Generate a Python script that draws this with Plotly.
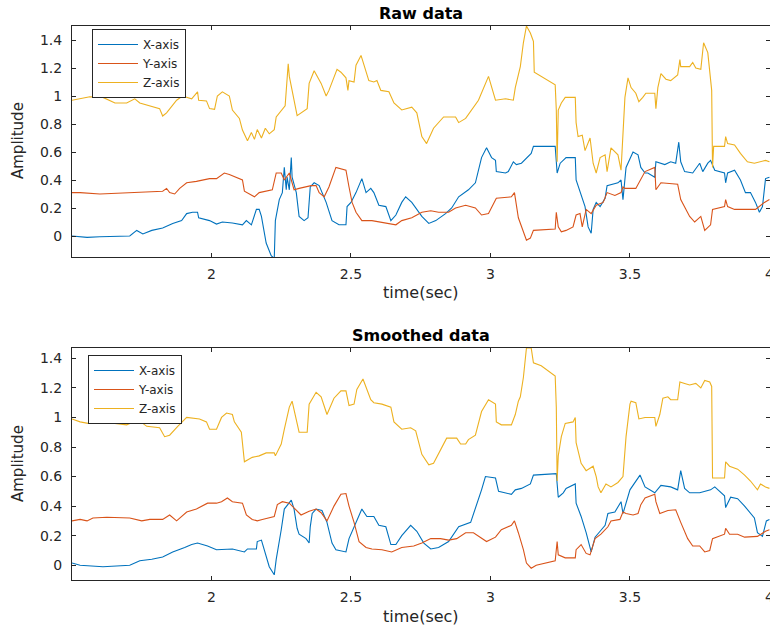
import plotly.graph_objects as go

# ---------------- DATA (time in seconds, amplitude) ----------------
raw_x_t = [1.500,1.529,1.554,1.600,1.707,1.732,1.754,1.786,1.825,1.861,1.893,1.911,1.932,1.950,1.954,1.993,2.018,2.039,2.075,2.111,2.125,2.143,2.161,2.171,2.179,2.196,2.214,2.225,2.229,2.243,2.254,2.261,2.268,2.271,2.279,2.286,2.289,2.304,2.314,2.332,2.346,2.354,2.368,2.386,2.411,2.432,2.457,2.482,2.486,2.500,2.518,2.539,2.554,2.571,2.582,2.600,2.625,2.643,2.661,2.682,2.696,2.718,2.736,2.754,2.779,2.804,2.839,2.861,2.886,2.921,2.946,2.957,2.968,2.986,3.004,3.018,3.021,3.054,3.064,3.082,3.093,3.111,3.146,3.154,3.232,3.239,3.250,3.271,3.304,3.307,3.339,3.350,3.361,3.368,3.379,3.393,3.411,3.418,3.457,3.468,3.475,3.486,3.511,3.529,3.539,3.554,3.564,3.589,3.593,3.625,3.646,3.664,3.675,3.682,3.696,3.725,3.750,3.761,3.779,3.789,3.804,3.839,3.843,3.850,3.875,3.896,3.914,3.932,3.950,3.964,3.975,3.986,4.000]
raw_x = [0.0,-0.005,-0.01,-0.005,0.0,0.04,0.015,0.04,0.057,0.09,0.11,0.16,0.17,0.17,0.13,0.11,0.085,0.1,0.093,0.08,0.11,0.08,0.19,0.19,0.14,-0.05,-0.14,-0.16,0.11,0.26,0.31,0.49,0.33,0.42,0.33,0.56,0.42,0.31,0.14,0.11,0.13,0.35,0.38,0.36,0.24,0.11,0.08,0.08,0.21,0.24,0.31,0.41,0.31,0.34,0.31,0.22,0.21,0.11,0.15,0.24,0.28,0.24,0.19,0.14,0.09,0.11,0.16,0.2,0.28,0.33,0.38,0.47,0.56,0.63,0.56,0.54,0.46,0.45,0.46,0.53,0.51,0.52,0.59,0.64,0.64,0.45,0.52,0.56,0.56,0.40,0.21,0.065,0.02,0.19,0.24,0.21,0.27,0.36,0.38,0.4,0.26,0.49,0.6,0.58,0.49,0.45,0.45,0.42,0.53,0.51,0.53,0.52,0.67,0.53,0.46,0.45,0.52,0.46,0.52,0.54,0.47,0.45,0.38,0.45,0.47,0.4,0.31,0.31,0.24,0.17,0.21,0.41,0.42]

raw_y_t = [1.500,1.529,1.600,1.707,1.825,1.839,1.850,1.868,1.886,1.911,1.946,1.993,2.018,2.046,2.064,2.111,2.118,2.154,2.171,2.218,2.232,2.250,2.261,2.279,2.296,2.314,2.357,2.375,2.386,2.404,2.421,2.446,2.468,2.482,2.493,2.504,2.518,2.539,2.575,2.600,2.636,2.661,2.682,2.718,2.754,2.786,2.814,2.850,2.875,2.911,2.946,2.968,2.993,3.021,3.075,3.086,3.100,3.111,3.129,3.143,3.154,3.232,3.236,3.243,3.254,3.271,3.296,3.307,3.321,3.329,3.343,3.361,3.379,3.404,3.418,3.446,3.468,3.475,3.482,3.521,3.536,3.554,3.589,3.593,3.611,3.671,3.682,3.714,3.732,3.754,3.768,3.789,3.796,3.839,3.843,3.850,3.875,3.950,3.982,4.000]
raw_y = [0.31,0.31,0.30,0.31,0.32,0.34,0.31,0.30,0.34,0.38,0.39,0.41,0.41,0.45,0.44,0.40,0.32,0.28,0.31,0.33,0.45,0.45,0.40,0.45,0.33,0.34,0.36,0.36,0.31,0.28,0.35,0.49,0.48,0.47,0.35,0.24,0.17,0.11,0.11,0.10,0.09,0.08,0.11,0.13,0.17,0.18,0.17,0.17,0.20,0.22,0.20,0.15,0.16,0.27,0.28,0.31,0.13,0.065,-0.03,-0.015,0.04,0.05,0.17,0.065,0.03,0.04,0.065,0.15,0.16,0.065,0.19,0.16,0.22,0.24,0.31,0.29,0.31,0.35,0.34,0.34,0.40,0.46,0.49,0.33,0.38,0.37,0.26,0.14,0.10,0.14,0.04,0.08,0.19,0.21,0.26,0.21,0.19,0.19,0.24,0.26]

raw_z_t = [1.500,1.564,1.611,1.654,1.696,1.725,1.743,1.768,1.814,1.825,1.839,1.875,1.896,1.929,1.950,1.954,1.982,1.993,2.011,2.021,2.039,2.064,2.075,2.100,2.111,2.129,2.143,2.154,2.164,2.179,2.193,2.207,2.225,2.232,2.254,2.264,2.275,2.279,2.307,2.343,2.350,2.368,2.393,2.411,2.421,2.450,2.464,2.482,2.489,2.493,2.511,2.518,2.536,2.546,2.564,2.582,2.593,2.607,2.636,2.654,2.682,2.718,2.736,2.754,2.771,2.796,2.832,2.875,2.886,2.911,2.957,2.993,3.004,3.018,3.054,3.082,3.089,3.107,3.118,3.129,3.143,3.154,3.157,3.182,3.232,3.236,3.239,3.243,3.254,3.268,3.304,3.307,3.314,3.329,3.339,3.357,3.368,3.379,3.393,3.411,3.418,3.432,3.457,3.468,3.475,3.482,3.493,3.504,3.521,3.532,3.546,3.557,3.589,3.593,3.600,3.611,3.629,3.646,3.671,3.679,3.682,3.714,3.725,3.736,3.754,3.764,3.779,3.786,3.793,3.796,3.800,3.839,3.843,3.850,3.875,3.896,3.921,3.946,3.968,3.986,4.000]
raw_z = [0.97,0.995,0.99,0.95,0.95,0.98,0.95,0.935,0.91,0.857,0.88,0.97,1.0,0.98,1.03,0.97,0.965,0.91,0.905,1.0,1.03,1.0,0.9,0.84,0.757,0.68,0.74,0.69,0.76,0.70,0.77,0.73,0.76,0.85,0.90,0.93,1.23,1.14,0.86,0.91,1.09,1.18,1.09,1.0,1.04,1.19,1.17,1.13,1.04,1.11,1.10,1.22,1.29,1.22,1.11,1.10,1.11,1.04,1.03,0.95,0.90,0.92,0.88,0.71,0.66,0.77,0.85,0.85,0.81,0.84,0.97,1.14,1.06,0.97,0.98,0.97,1.06,1.21,1.38,1.5,1.45,1.39,1.17,1.14,1.08,0.9,0.53,0.9,0.95,0.99,0.99,0.81,0.71,0.72,0.61,0.70,0.52,0.45,0.56,0.58,0.46,0.63,0.58,0.47,0.75,0.99,1.13,1.06,1.02,0.96,0.99,1.02,1.02,0.91,1.06,1.16,1.12,1.11,1.15,1.26,1.21,1.21,1.24,1.20,1.19,1.38,1.31,1.19,1.04,0.49,0.64,0.64,0.71,0.66,0.65,0.59,0.53,0.52,0.53,0.54,0.53]

sm_x_t = [1.500,1.529,1.611,1.696,1.707,1.743,1.786,1.825,1.861,1.904,1.929,1.950,1.986,2.018,2.054,2.075,2.118,2.129,2.161,2.164,2.179,2.189,2.207,2.225,2.232,2.250,2.261,2.286,2.296,2.307,2.314,2.339,2.350,2.354,2.361,2.375,2.396,2.414,2.432,2.446,2.482,2.493,2.518,2.539,2.557,2.582,2.600,2.625,2.643,2.661,2.682,2.714,2.736,2.761,2.786,2.814,2.850,2.886,2.929,2.946,2.968,2.982,3.018,3.029,3.075,3.089,3.111,3.143,3.154,3.236,3.243,3.261,3.271,3.304,3.307,3.325,3.343,3.361,3.375,3.393,3.411,3.421,3.446,3.468,3.475,3.500,3.518,3.536,3.554,3.589,3.611,3.646,3.671,3.682,3.696,3.714,3.750,3.789,3.804,3.839,3.843,3.861,3.886,3.911,3.946,3.957,3.975,3.989,4.000]
sm_x = [0.015,0.0,-0.01,-0.005,0.0,0.03,0.04,0.055,0.09,0.12,0.14,0.15,0.13,0.105,0.105,0.11,0.09,0.11,0.11,0.16,0.17,0.105,-0.01,-0.065,0.04,0.24,0.38,0.44,0.38,0.25,0.21,0.18,0.15,0.26,0.35,0.38,0.37,0.29,0.15,0.105,0.09,0.18,0.29,0.38,0.33,0.33,0.27,0.26,0.14,0.14,0.20,0.27,0.23,0.15,0.11,0.12,0.16,0.26,0.29,0.38,0.51,0.60,0.59,0.50,0.48,0.51,0.52,0.55,0.61,0.62,0.46,0.49,0.52,0.55,0.42,0.33,0.22,0.09,0.19,0.23,0.27,0.35,0.36,0.43,0.35,0.51,0.56,0.61,0.53,0.49,0.54,0.53,0.51,0.64,0.52,0.49,0.49,0.51,0.53,0.47,0.39,0.46,0.45,0.40,0.32,0.22,0.195,0.30,0.31]

sm_y_t = [1.500,1.529,1.554,1.575,1.625,1.707,1.750,1.779,1.825,1.850,1.875,1.911,1.946,1.986,2.018,2.036,2.057,2.075,2.111,2.125,2.146,2.164,2.182,2.225,2.236,2.254,2.279,2.296,2.321,2.350,2.375,2.393,2.414,2.439,2.464,2.482,2.493,2.511,2.529,2.554,2.575,2.611,2.646,2.682,2.725,2.754,2.786,2.821,2.850,2.879,2.911,2.939,2.968,2.986,3.018,3.039,3.075,3.086,3.100,3.118,3.129,3.146,3.164,3.232,3.239,3.243,3.268,3.304,3.307,3.325,3.343,3.357,3.375,3.396,3.421,3.432,3.464,3.475,3.486,3.511,3.529,3.539,3.554,3.589,3.593,3.607,3.636,3.664,3.682,3.707,3.725,3.750,3.768,3.786,3.796,3.839,3.843,3.857,3.886,3.911,3.957,3.986,4.000]
sm_y = [0.30,0.31,0.30,0.32,0.325,0.32,0.30,0.31,0.31,0.34,0.30,0.36,0.38,0.42,0.42,0.43,0.455,0.43,0.42,0.34,0.31,0.30,0.31,0.33,0.41,0.43,0.42,0.39,0.34,0.365,0.38,0.355,0.30,0.40,0.48,0.485,0.40,0.29,0.16,0.12,0.11,0.105,0.09,0.12,0.13,0.15,0.18,0.18,0.17,0.18,0.22,0.22,0.18,0.16,0.19,0.24,0.27,0.30,0.22,0.105,0.015,-0.02,0.0,0.03,0.16,0.07,0.05,0.05,0.105,0.14,0.08,0.07,0.18,0.21,0.26,0.30,0.31,0.36,0.35,0.34,0.35,0.41,0.455,0.48,0.43,0.35,0.37,0.375,0.29,0.18,0.13,0.13,0.09,0.10,0.18,0.21,0.25,0.21,0.21,0.19,0.195,0.23,0.24]

sm_z_t = [1.500,1.529,1.557,1.575,1.600,1.625,1.654,1.696,1.732,1.754,1.768,1.814,1.832,1.850,1.879,1.911,1.957,1.982,1.993,2.018,2.036,2.054,2.075,2.082,2.107,2.118,2.146,2.171,2.196,2.225,2.229,2.250,2.261,2.279,2.289,2.304,2.314,2.343,2.350,2.375,2.393,2.414,2.439,2.464,2.482,2.493,2.511,2.521,2.543,2.571,2.582,2.611,2.643,2.654,2.682,2.714,2.732,2.754,2.779,2.796,2.825,2.843,2.879,2.893,2.911,2.921,2.946,2.968,2.993,3.018,3.021,3.039,3.075,3.089,3.100,3.107,3.118,3.129,3.146,3.154,3.182,3.232,3.236,3.239,3.243,3.254,3.268,3.296,3.304,3.307,3.325,3.343,3.368,3.379,3.386,3.396,3.414,3.432,3.457,3.475,3.486,3.500,3.504,3.521,3.532,3.554,3.589,3.593,3.607,3.618,3.636,3.646,3.671,3.679,3.696,3.714,3.736,3.754,3.768,3.786,3.793,3.796,3.839,3.843,3.857,3.886,3.911,3.932,3.957,3.968,3.986,4.000]
sm_z = [0.99,0.97,0.96,1.0,0.99,0.99,0.96,0.95,0.98,0.96,0.94,0.93,0.87,0.88,0.94,1.0,0.99,0.97,0.92,0.92,1.0,1.03,1.02,0.97,0.90,0.70,0.73,0.74,0.76,0.76,0.74,0.82,0.92,1.07,1.11,0.97,0.90,0.90,1.09,1.17,1.14,1.02,1.13,1.18,1.18,1.08,1.09,1.19,1.26,1.12,1.10,1.09,1.07,0.97,0.92,0.93,0.91,0.75,0.68,0.69,0.80,0.86,0.86,0.82,0.82,0.85,0.88,1.04,1.12,1.09,0.97,0.95,0.95,1.02,1.11,1.14,1.27,1.47,1.47,1.37,1.35,1.28,1.07,0.57,0.74,0.87,0.96,0.97,1.0,0.83,0.69,0.64,0.67,0.60,0.53,0.49,0.55,0.53,0.56,0.60,0.87,1.09,1.11,1.10,0.99,1.0,1.0,0.94,1.02,1.13,1.14,1.12,1.12,1.24,1.23,1.22,1.23,1.20,1.25,1.24,1.21,0.59,0.59,0.70,0.67,0.65,0.61,0.57,0.51,0.55,0.53,0.52]

series_names = ["X-axis", "Y-axis", "Z-axis"]
series_colors = ["#0072BD", "#D95319", "#EDB120"]
panel_titles = ["Raw data", "Smoothed data"]
x_label = "time(sec)"
y_label = "Amplitude"
x_ticks = [2, 2.5, 3, 3.5, 4]
y_ticks = [0, 0.2, 0.4, 0.6, 0.8, 1, 1.2, 1.4]

# ---------------- FIGURE ----------------
W, H = 770, 628
L = 72
PW = W - L
FONT = "DejaVu Sans"
AX = "#262626"

def py(p):
    return 1 - p / H

def px(p):
    return (p - L) / PW

fig = go.Figure()

raw = [(raw_x_t, raw_x), (raw_y_t, raw_y), (raw_z_t, raw_z)]
sm = [(sm_x_t, sm_x), (sm_y_t, sm_y), (sm_z_t, sm_z)]

for i, (t, v) in enumerate(raw):
    fig.add_trace(go.Scatter(x=t, y=v, mode="lines", name=series_names[i],
                             line=dict(color=series_colors[i], width=1.1),
                             xaxis="x", yaxis="y", legend="legend"))
for i, (t, v) in enumerate(sm):
    fig.add_trace(go.Scatter(x=t, y=v, mode="lines", name=series_names[i],
                             line=dict(color=series_colors[i], width=1.1),
                             xaxis="x2", yaxis="y2", legend="legend2"))

axis_common = dict(showline=True, linecolor=AX, linewidth=1, mirror="ticks",
                   ticks="inside", ticklen=4, tickcolor=AX, showgrid=False,
                   zeroline=False, ticklabeloverflow="allow", automargin=False,
                   tickfont=dict(family=FONT, size=14, color=AX))

XR = [1.5, 4.002]
leg_common = dict(xanchor="left", yanchor="top", bordercolor=AX, borderwidth=1,
                  bgcolor="white", font=dict(family=FONT, size=12, color=AX),
                  tracegroupgap=0, itemwidth=40)

fig.update_layout(
    width=W, height=H,
    margin=dict(l=L, r=0, t=0, b=0, autoexpand=False),
    paper_bgcolor="white", plot_bgcolor="white",
    xaxis=dict(domain=[0, 1], range=XR, tickvals=x_ticks, anchor="y",
               ticklabelstandoff=4, **axis_common),
    yaxis=dict(domain=[py(257), py(26)], range=[-0.15, 1.5], tickvals=y_ticks,
               anchor="x", ticklabelstandoff=6, **axis_common),
    xaxis2=dict(domain=[0, 1], range=XR, tickvals=x_ticks, anchor="y2",
                ticklabelstandoff=4, **axis_common),
    yaxis2=dict(domain=[py(580), py(348)], range=[-0.1, 1.47], tickvals=y_ticks,
                anchor="x2", ticklabelstandoff=6, **axis_common),
    legend=dict(x=px(92), y=py(29), **leg_common),
    legend2=dict(x=px(88), y=py(355), **leg_common),
    showlegend=True,
)

ann = []
for title, yp in zip(panel_titles, [13, 335]):
    ann.append(dict(text="<b>%s</b>" % title, x=0.5, xref="paper", y=py(yp), yref="paper",
                    xanchor="center", yanchor="middle", showarrow=False,
                    font=dict(family=FONT, size=16, color="black")))
for yp in [293, 616]:
    ann.append(dict(text=x_label, x=0.5, xref="paper", y=py(yp), yref="paper",
                    xanchor="center", yanchor="middle", showarrow=False,
                    font=dict(family=FONT, size=16, color=AX)))
for yp in [141, 464]:
    ann.append(dict(text=y_label, x=px(18), xref="paper", y=py(yp), yref="paper",
                    xanchor="center", yanchor="middle", showarrow=False, textangle=-90,
                    font=dict(family=FONT, size=15, color=AX)))
fig.update_layout(annotations=ann)

fig.write_html("out.html")
